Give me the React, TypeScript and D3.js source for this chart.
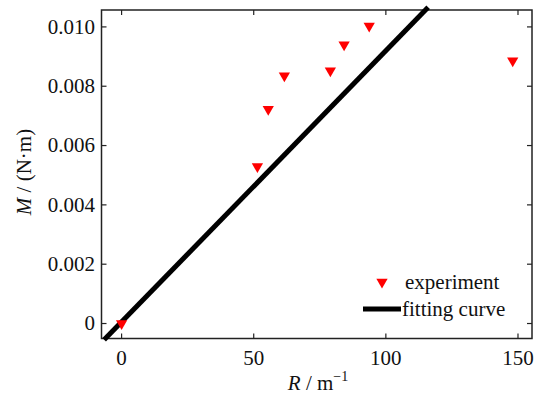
import React from "react";
import * as d3 from "d3";

const expR = [0, 51.4, 55.5, 61.6, 79.0, 84.2, 93.7, 148.0];
const expM = [0, 0.00529, 0.00722, 0.00835, 0.00852, 0.00940, 0.01003, 0.00886];
const fitR = [-6.6, 116];
const fitM = [-0.00055, 0.01066];
const xTicks = [0, 50, 100, 150];
const yTicks = [0, 0.002, 0.004, 0.006, 0.008, 0.01];
const yTickLabels = ["0", "0.002", "0.004", "0.006", "0.008", "0.010"];
const legendLabels = ["experiment", "fitting curve"];

const W = 544, H = 398;
const L = 101.5, R = 532, T = 10, B = 338.5;
const FONT = "Liberation Serif";

export default function App() {
  const x = d3.scaleLinear().domain([-7.6, 155.3]).range([L, R]);
  const y = d3.scaleLinear().domain([-0.000505, 0.01057]).range([B, T]);
  const tri = d3.symbol().type(d3.symbolTriangle).size(55)();
  const line = d3.line<number>().x((_, i) => x(fitR[i])).y((d) => y(d));
  const tickLen = 5;
  const ts: React.CSSProperties = { fontFamily: FONT };
  return (
    <svg width={W} height={H} style={{ position: "absolute", left: 0, top: 0, background: "#fff" }}>
      <rect x={L} y={T} width={R - L} height={B - T} fill="none" stroke="#222" strokeWidth={1.5} />
      {xTicks.map((t) => (
        <g key={"x" + t}>
          <line x1={x(t)} x2={x(t)} y1={B} y2={B - tickLen} stroke="#222" strokeWidth={1.2} />
          <line x1={x(t)} x2={x(t)} y1={T} y2={T + tickLen} stroke="#222" strokeWidth={1.2} />
          <text style={ts} x={x(t)} y={365} textAnchor="middle" fontSize={21} fill="#111">{t}</text>
        </g>
      ))}
      {yTicks.map((t, i) => (
        <g key={"y" + t}>
          <line x1={L} x2={L + tickLen} y1={y(t)} y2={y(t)} stroke="#222" strokeWidth={1.2} />
          <line x1={R} x2={R - tickLen} y1={y(t)} y2={y(t)} stroke="#222" strokeWidth={1.2} />
          <text style={ts} x={95} y={y(t)} dy="0.33em" textAnchor="end" fontSize={21} fill="#111">{yTickLabels[i]}</text>
        </g>
      ))}
      <path d={line(fitM) || ""} stroke="#000" strokeWidth={5} fill="none" />
      {expR.map((r, i) => (
        <path key={"p" + i} d={tri} transform={`translate(${x(r)},${y(expM[i])}) rotate(180)`} fill="#ff0000" />
      ))}
      <text style={ts} x={318} y={390} textAnchor="middle" fontSize={21} fill="#111">
        <tspan fontStyle="italic">R</tspan>
        <tspan> / m</tspan>
        <tspan fontSize={14} dy={-9}>−1</tspan>
      </text>
      <text style={ts} transform={`translate(31,172) rotate(-90)`} textAnchor="middle" fontSize={21} fill="#111">
        <tspan fontStyle="italic">M</tspan>
        <tspan> / (N·m)</tspan>
      </text>
      <path d={tri} transform={`translate(382,282) rotate(180)`} fill="#ff0000" />
      <text style={ts} x={405} y={289} fontSize={21} fill="#111">{legendLabels[0]}</text>
      <line x1={363} x2={401} y1={309} y2={309} stroke="#000" strokeWidth={5} />
      <text style={ts} x={402} y={316} fontSize={21} fill="#111">{legendLabels[1]}</text>
    </svg>
  );
}
